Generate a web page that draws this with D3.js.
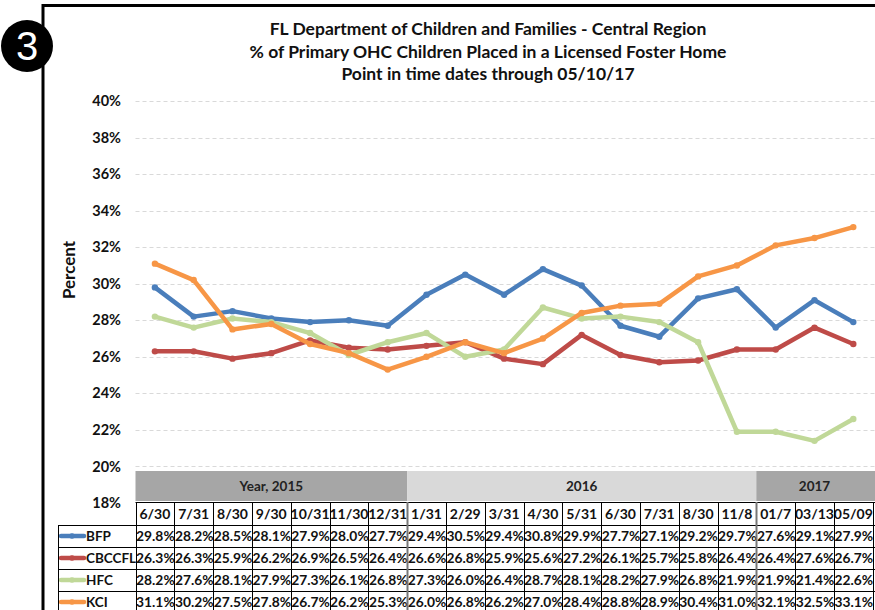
<!DOCTYPE html>
<html>
<head>
<meta charset="utf-8">
<script src="https://cdn.jsdelivr.net/npm/d3@7"></script>
<style>
  html, body { margin: 0; padding: 0; background: #fff; }
  svg { display: block; font-family: Lato, 'Open Sans', sans-serif; }
</style>
</head>
<body>
<div id="chart"></div>
<script>
// data
const dates = ['6/30', '7/31', '8/30', '9/30', '10/31', '11/30', '12/31', '1/31', '2/29',
  '3/31', '4/30', '5/31', '6/30', '7/31', '8/30', '11/8', '01/7', '03/13', '05/09'];
const yearLabels = ['Year, 2015', '2016', '2017'];
const yearSpans = [7, 9, 3];
const seriesNames = ['BFP', 'CBCCFL', 'HFC', 'KCI'];
const bfp = [29.8, 28.2, 28.5, 28.1, 27.9, 28.0, 27.7, 29.4, 30.5, 29.4, 30.8, 29.9, 27.7, 27.1, 29.2, 29.7, 27.6, 29.1, 27.9];
const cbccfl = [26.3, 26.3, 25.9, 26.2, 26.9, 26.5, 26.4, 26.6, 26.8, 25.9, 25.6, 27.2, 26.1, 25.7, 25.8, 26.4, 26.4, 27.6, 26.7];
const hfc = [28.2, 27.6, 28.1, 27.9, 27.3, 26.1, 26.8, 27.3, 26.0, 26.4, 28.7, 28.1, 28.2, 27.9, 26.8, 21.9, 21.9, 21.4, 22.6];
const kci = [31.1, 30.2, 27.5, 27.8, 26.7, 26.2, 25.3, 26.0, 26.8, 26.2, 27.0, 28.4, 28.8, 28.9, 30.4, 31.0, 32.1, 32.5, 33.1];
const yTicks = [18, 20, 22, 24, 26, 28, 30, 32, 34, 36, 38, 40];
const titleLines = ['FL Department of Children and Families - Central Region',
  '% of Primary OHC Children Placed in a Licensed Foster Home',
  'Point in time dates through 05/10/17'];

const seriesValues = [bfp, cbccfl, hfc, kci];
const colors = ['#4a7ebb', '#be4b48', '#c0d898', '#f79646'];

const width = 875;
const height = 610;
const colW = 38.8;
const x0 = 135.5;

const svg = d3.select('#chart').append('svg')
    .attr('width', width)
    .attr('height', height);

// scales
const x = d3.scaleBand()
    .domain(d3.range(dates.length))
    .range([x0, x0 + colW * dates.length]);
const y = d3.scaleLinear().domain([18, 40]).range([503, 101]);

// frame
svg.append('path')
    .attr('d', `M43,${height} V5.5 H${width}`)
    .attr('fill', 'none')
    .attr('stroke', '#000')
    .attr('stroke-width', 3);

// badge
svg.append('circle').attr('cx', 27).attr('cy', 46).attr('r', 26).attr('fill', '#000');
svg.append('text')
    .attr('x', 27).attr('y', 46)
    .attr('dy', '0.36em')
    .attr('text-anchor', 'middle')
    .attr('fill', '#fff')
    .attr('font-family', 'Liberation Sans, Arial, sans-serif')
    .attr('font-size', 40)
    .text('3');

// title
svg.append('g').selectAll('text')
    .data(titleLines)
    .join('text')
    .attr('x', 488)
    .attr('y', (d, i) => 35 + i * 22.5)
    .attr('text-anchor', 'middle')
    .attr('font-weight', 'bold')
    .attr('font-size', 17.5)
    .attr('fill', '#111')
    .text((d) => d);

// grid + y labels
const grid = svg.append('g');
grid.selectAll('line')
    .data(yTicks.filter((t) => t > 18))
    .join('line')
    .attr('x1', x0).attr('x2', width)
    .attr('y1', (d) => Math.round(y(d)) + 0.5)
    .attr('y2', (d) => Math.round(y(d)) + 0.5)
    .attr('stroke', '#d9d9d9')
    .attr('stroke-dasharray', '4,3');
grid.selectAll('text')
    .data(yTicks)
    .join('text')
    .attr('x', 121)
    .attr('y', (d) => y(d))
    .attr('dy', '0.35em')
    .attr('text-anchor', 'end')
    .attr('font-weight', 'bold')
    .attr('font-size', 14.5)
    .attr('fill', '#111')
    .text((d) => d + '%');

svg.append('text')
    .attr('transform', 'translate(75,270) rotate(-90)')
    .attr('text-anchor', 'middle')
    .attr('font-weight', 'bold')
    .attr('font-size', 17)
    .attr('fill', '#111')
    .text('Percent');

// lines
const line = d3.line()
    .x((d, i) => x(i) + x.bandwidth() / 2)
    .y((d) => y(d));
const plot = svg.append('g');
seriesValues.forEach((vals, s) => {
  plot.append('path')
      .attr('d', line(vals))
      .attr('fill', 'none')
      .attr('stroke', colors[s])
      .attr('stroke-width', 4.5)
      .attr('stroke-linejoin', 'round')
      .attr('stroke-linecap', 'round');
  plot.selectAll(null)
      .data(vals)
      .join('circle')
      .attr('cx', (d, i) => x(i) + x.bandwidth() / 2)
      .attr('cy', (d) => y(d))
      .attr('r', 3.2)
      .attr('fill', colors[s]);
});

// year band
const yearStarts = yearSpans.map((s, i) => d3.sum(yearSpans.slice(0, i)));
const band = svg.append('g');
yearLabels.forEach((label, i) => {
  const bx = x(yearStarts[i]);
  const bw = i === yearLabels.length - 1 ? width - bx : yearSpans[i] * colW;
  band.append('rect')
      .attr('x', bx).attr('y', 471)
      .attr('width', bw).attr('height', 30)
      .attr('fill', i === 1 ? '#d9d9d9' : '#a6a6a6');
  band.append('text')
      .attr('x', bx + yearSpans[i] * colW / 2).attr('y', 486)
      .attr('dy', '0.35em')
      .attr('text-anchor', 'middle')
      .attr('font-weight', 'bold')
      .attr('font-size', 13.5)
      .attr('fill', '#222')
      .text(label);
});

// data table
const tTop = 502;
const rowH = 22;
const table = svg.append('g');
table.append('rect')
    .attr('x', x0).attr('y', tTop)
    .attr('width', width - x0).attr('height', height - tTop)
    .attr('fill', '#fff');
table.append('rect')
    .attr('x', 58).attr('y', tTop + rowH + 1)
    .attr('width', x0 - 58).attr('height', height - tTop - rowH)
    .attr('fill', '#fff');

table.selectAll('text.hdr')
    .data(dates)
    .join('text')
    .attr('class', 'hdr')
    .attr('x', (d, i) => x(i) + colW / 2)
    .attr('y', tTop + 12)
    .attr('dy', '0.35em')
    .attr('text-anchor', 'middle')
    .attr('font-weight', 'bold')
    .attr('font-size', 14)
    .attr('fill', '#111')
    .text((d) => d);

seriesValues.forEach((vals, s) => {
  const ry = tTop + rowH + 1 + s * rowH;
  table.selectAll(null)
      .data(vals)
      .join('text')
      .attr('x', (d, i) => x(i) + colW / 2 + 0.5)
      .attr('y', ry + rowH / 2)
      .attr('dy', '0.35em')
      .attr('text-anchor', 'middle')
      .attr('font-weight', 'bold')
      .attr('font-size', 13.8)
      .attr('fill', '#111')
      .text((d) => d.toFixed(1) + '%');
  table.append('line')
      .attr('x1', 61).attr('x2', 84)
      .attr('y1', ry + rowH / 2).attr('y2', ry + rowH / 2)
      .attr('stroke', colors[s])
      .attr('stroke-width', 4.5)
      .attr('stroke-linecap', 'round');
  table.append('circle')
      .attr('cx', 72).attr('cy', ry + rowH / 2)
      .attr('r', 2.8).attr('fill', colors[s]);
  table.append('text')
      .attr('x', 86).attr('y', ry + rowH / 2)
      .attr('dy', '0.35em')
      .attr('font-weight', 'bold')
      .attr('font-size', 13.5)
      .attr('fill', '#111')
      .text(seriesNames[s]);
});

// table grid
const rowYs = d3.range(seriesNames.length + 1).map((i) => tTop + rowH + 1 + i * rowH);
table.append('line')
    .attr('x1', x0).attr('x2', width)
    .attr('y1', tTop + 0.5).attr('y2', tTop + 0.5)
    .attr('stroke', '#000');
table.selectAll('line.row')
    .data(rowYs)
    .join('line')
    .attr('class', 'row')
    .attr('x1', 58).attr('x2', width)
    .attr('y1', (d) => d + 0.5).attr('y2', (d) => d + 0.5)
    .attr('stroke', '#000');
table.selectAll('line.col')
    .data(d3.range(dates.length + 1))
    .join('line')
    .attr('class', 'col')
    .attr('x1', (d) => Math.round(x0 + d * colW) + 0.5)
    .attr('x2', (d) => Math.round(x0 + d * colW) + 0.5)
    .attr('y1', tTop).attr('y2', height)
    .attr('stroke', (d) => (d === 7 || d === 16) ? '#777' : '#000')
    .attr('stroke-width', (d) => (d === 7 || d === 16) ? 2 : 1);
table.append('line')
    .attr('x1', 58.5).attr('x2', 58.5)
    .attr('y1', tTop + rowH + 1).attr('y2', height)
    .attr('stroke', '#000');
</script>
</body>
</html>
